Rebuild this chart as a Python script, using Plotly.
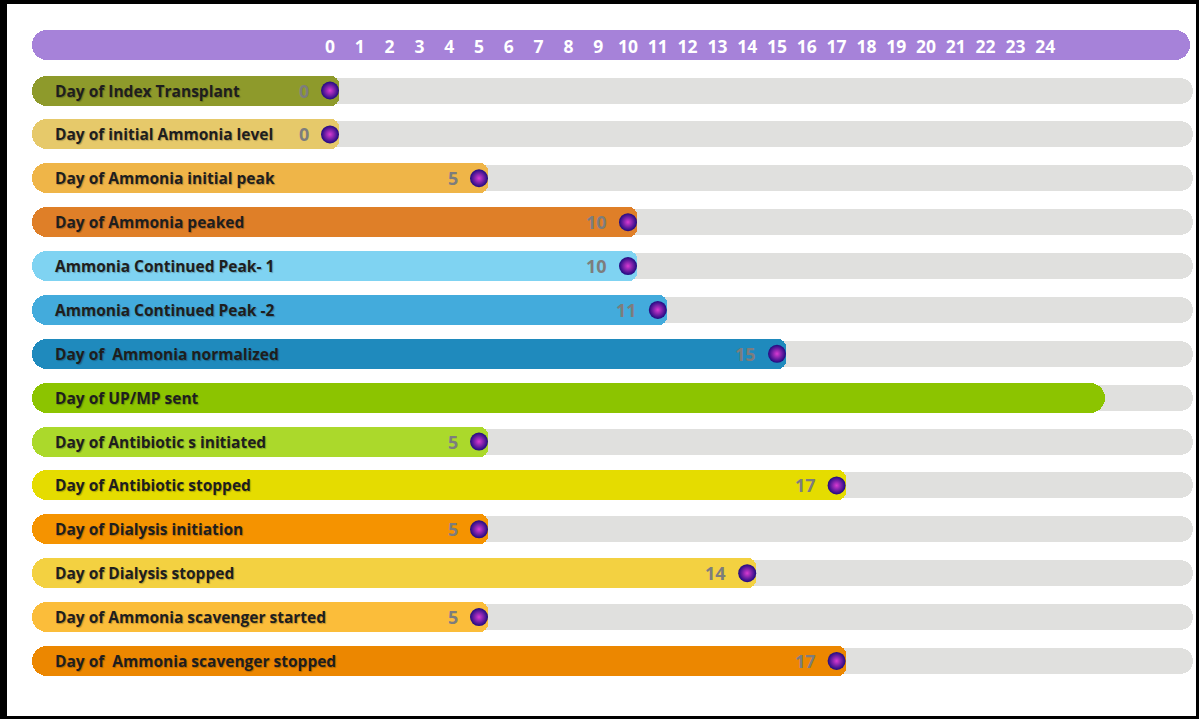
import plotly.graph_objects as go

# ---------------- data ----------------
labels = [
    "Day of Index Transplant",
    "Day of initial Ammonia level",
    "Day of Ammonia initial peak",
    "Day of Ammonia peaked",
    "Ammonia Continued Peak- 1",
    "Ammonia Continued Peak -2",
    "Day of\u00a0 Ammonia normalized",
    "Day of UP/MP sent",
    "Day of Antibiotic s initiated",
    "Day of Antibiotic stopped",
    "Day of Dialysis initiation",
    "Day of Dialysis stopped",
    "Day of Ammonia scavenger started",
    "Day of\u00a0 Ammonia scavenger stopped",
]
days = [0, 0, 5, 10, 10, 11, 15, 26, 5, 17, 5, 14, 5, 17]
show_value = [True, True, True, True, True, True, True, False,
              True, True, True, True, True, True]
colors = ["#8e9a2b", "#e6c96a", "#efb548", "#df7f28", "#7fd3f2", "#43abdc",
          "#1f8abd", "#8cc400", "#abd92b", "#e5dc00", "#f59300", "#f3d141",
          "#fbbd3a", "#ec8700"]
tick_days = list(range(0, 25))

# ---------------- layout constants ----------------
W, H = 1199, 719
X0_PX, X_SLOPE = 330.0, 29.8          # pixel of day 0, pixels per day
x_lo = -X0_PX / X_SLOPE
x_hi = (W - X0_PX) / X_SLOPE
ROW0_PX, ROW_STEP = 90.5, 43.88
y_top = 1 - ROW0_PX / ROW_STEP
y_bot = 1 + (H - ROW0_PX) / ROW_STEP

def px_to_x(p):
    return (p - X0_PX) / X_SLOPE

LEFT = px_to_x(32)
MID = px_to_x(120)
INNER = px_to_x(60)
TRACK_R = px_to_x(1193)
HEAD_R = px_to_x(1190)
LABEL_X = px_to_x(53)
PAD = 9 / X_SLOPE
BAR_W = 30 / ROW_STEP
TRACK_W = 26 / ROW_STEP
HEAD_Y = 1 - 46 / ROW_STEP

rows = list(range(1, len(labels) + 1))
n = len(rows)

fig = go.Figure()

def hbar(y, x, base, color, width, radius):
    fig.add_trace(go.Bar(
        y=y, x=x, base=base, orientation="h", width=width,
        marker=dict(color=color, line=dict(width=0), cornerradius=radius),
        hoverinfo="skip", showlegend=False))

# grey tracks
hbar(rows, [TRACK_R - INNER] * n, [INNER] * n, "#e0e0de", TRACK_W, "50%")

# header bar
hbar([HEAD_Y], [HEAD_R - INNER], [INNER], "#a682d9", BAR_W, "50%")
hbar([HEAD_Y], [LEFT - MID], [MID], "#a682d9", BAR_W, "50%")

# coloured bars: body ending at the day value (slightly rounded)
r_idx = [i for i in range(n) if show_value[i]]
hbar([rows[i] for i in r_idx], [days[i] + PAD - INNER for i in r_idx],
     [INNER] * len(r_idx), [colors[i] for i in r_idx], BAR_W, 8)
# bar without value marker (fully round end)
n_idx = [i for i in range(n) if not show_value[i]]
hbar([rows[i] for i in n_idx], [days[i] - INNER for i in n_idx],
     [INNER] * len(n_idx), [colors[i] for i in n_idx], BAR_W, "50%")
# round left caps
hbar(rows, [LEFT - MID] * n, [MID] * n, colors, BAR_W, "50%")

# spheres
fig.add_trace(go.Scatter(
    x=[days[i] for i in r_idx], y=[rows[i] for i in r_idx], mode="markers",
    marker=dict(size=18, color="#1e0a80",
                gradient=dict(type="radial", color="#d93ad2"),
                line=dict(width=0)),
    hoverinfo="skip", showlegend=False))

annotations = []
for i, r in enumerate(rows):
    annotations.append(dict(
        x=LABEL_X, y=r, xref="x", yref="y", text=labels[i], showarrow=False,
        xanchor="left", yanchor="middle",
        font=dict(family="Open Sans", size=15.5, color="#1e1e1e", weight="bold",
                  shadow="1px 1px 1px rgba(0,0,0,0.25)")))
    if show_value[i]:
        annotations.append(dict(
            x=days[i], y=r, xref="x", yref="y", text=str(days[i]), showarrow=False,
            xanchor="right", yanchor="middle", xshift=-19,
            font=dict(family="Open Sans", size=18, color="#7d7d7d", weight="bold")))

shapes = [
    dict(type="rect", xref="paper", yref="paper", x0=0, x1=7 / W, y0=0, y1=1,
         fillcolor="black", line=dict(width=0), layer="above"),
    dict(type="rect", xref="paper", yref="paper", x0=0, x1=1, y0=1 - 4 / H, y1=1,
         fillcolor="black", line=dict(width=0), layer="above"),
    dict(type="rect", xref="paper", yref="paper", x0=1 - 3 / W, x1=1, y0=0, y1=1,
         fillcolor="black", line=dict(width=0), layer="above"),
    dict(type="rect", xref="paper", yref="paper", x0=0, x1=1, y0=0, y1=3 / H,
         fillcolor="black", line=dict(width=0), layer="above"),
]

fig.update_layout(
    width=W, height=H, margin=dict(l=0, r=0, t=0, b=0),
    paper_bgcolor="white", plot_bgcolor="white",
    barmode="overlay", bargap=0, hovermode=False,
    annotations=annotations, shapes=shapes,
    xaxis=dict(range=[x_lo, x_hi], showgrid=False, zeroline=False, showline=False,
               tickvals=tick_days, ticktext=[str(t) for t in tick_days], ticks="",
               side="top", anchor="free", position=1 - 56 / H,
               tickfont=dict(family="Open Sans", size=17.5, color="white", weight="bold"),
               fixedrange=True),
    yaxis=dict(range=[y_bot, y_top], visible=False, fixedrange=True),
)

fig.write_html(
    "out.html",
    config={"displayModeBar": False},
    post_script="document.body.style.margin='0';document.body.style.overflow='hidden';",
)
